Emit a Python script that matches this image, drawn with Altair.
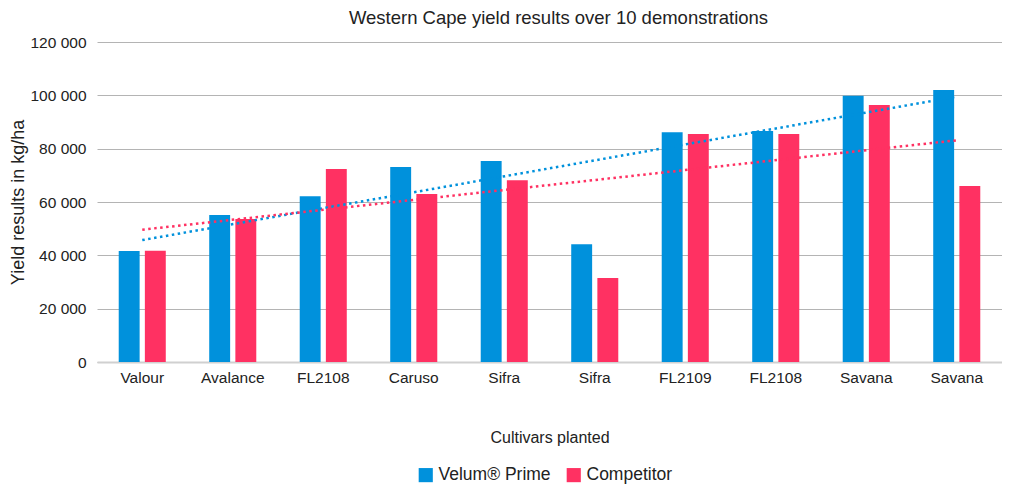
import altair as alt
import pandas as pd

cultivars = ["Valour", "Avalance", "FL2108", "Caruso", "Sifra", "Sifra", "FL2109", "FL2108", "Savana", "Savana"]
velum = [41600, 55100, 62200, 73100, 75400, 44200, 86200, 86600, 99800, 102000]
competitor = [41700, 53600, 72400, 63000, 68200, 31500, 85500, 85500, 96400, 66000]
series = ["Velum® Prime", "Competitor"]
colors = ["#0091dc", "#ff3162"]

rows = []
for i in range(len(cultivars)):
    rows.append({"idx": i, "series": series[0], "yield": velum[i]})
    rows.append({"idx": i, "series": series[1], "yield": competitor[i]})
df = pd.DataFrame(rows)

FONT = "Liberation Sans"
label_arr = "[" + ",".join("'" + c + "'" for c in cultivars) + "]"

xscale = alt.Scale(domain=list(range(10)), paddingInner=0.48, paddingOuter=0.24)
yscale = alt.Scale(domain=[0, 120000])
cscale = alt.Scale(domain=series, range=colors)

x_axis = alt.Axis(
    title="Cultivars planted", labelExpr=label_arr + "[datum.value]", labelAngle=0,
    ticks=False, domainColor="#d0d0d0", domainWidth=2, labelPadding=8,
    labelFontSize=15.5, labelColor="#222", labelFont=FONT,
    titleFont=FONT, titleFontSize=16, titleFontWeight="normal", titleColor="#222",
    titleY=75, titleBaseline="middle",
)
y_axis = alt.Axis(
    title="Yield results  in kg/ha", values=[0, 20000, 40000, 60000, 80000, 100000, 120000],
    labelExpr="datum.value == 0 ? '0' : format(datum.value/1000, 'd') + ' 000'",
    ticks=False, domain=False, gridColor="#b4b4b4", gridWidth=1, labelPadding=11,
    labelFontSize=15.5, labelColor="#222", labelFont=FONT,
    titleFont=FONT, titleFontSize=18, titleFontWeight="normal", titleColor="#222",
    titleX=-79, titleBaseline="middle",
)

base = alt.Chart(df)

bars = base.mark_bar().encode(
    x=alt.X("idx:O", scale=xscale, axis=x_axis),
    xOffset=alt.XOffset("series:N", sort=series, scale=alt.Scale(paddingInner=0.2, paddingOuter=0)),
    y=alt.Y("yield:Q", scale=yscale, axis=y_axis),
    color=alt.Color("series:N", scale=cscale, sort=series, legend=alt.Legend(
        title=None, orient="none", direction="horizontal", legendX=320, legendY=424,
        symbolType="square", symbolSize=200, symbolStrokeWidth=0, labelFontSize=17.5,
        labelFont=FONT, labelColor="#222", columnPadding=14, symbolOffset=0,
    )),
)

trend = base.transform_regression(
    "idx", "yield", groupby=["series"], extent=[0, 9]
).mark_line(strokeDash=[2.5, 3.5], strokeWidth=2.5).encode(
    x=alt.X("idx:O", scale=xscale),
    y=alt.Y("yield:Q", scale=yscale),
    color=alt.Color("series:N", scale=cscale, sort=series, legend=None),
)

chart = alt.layer(bars, trend).properties(
    width=905, height=320,
    title=alt.TitleParams("Western Cape yield results over 10 demonstrations", font=FONT,
                          fontSize=18.5, fontWeight="normal", color="#222", offset=8, dx=9),
    autosize=alt.AutoSizeParams(type="none"),
    padding={"left": 89, "top": 34, "right": 0, "bottom": 124},
).configure_view(stroke=None)

chart.save("out.html", embed_options={"renderer": "svg", "actions": False})
